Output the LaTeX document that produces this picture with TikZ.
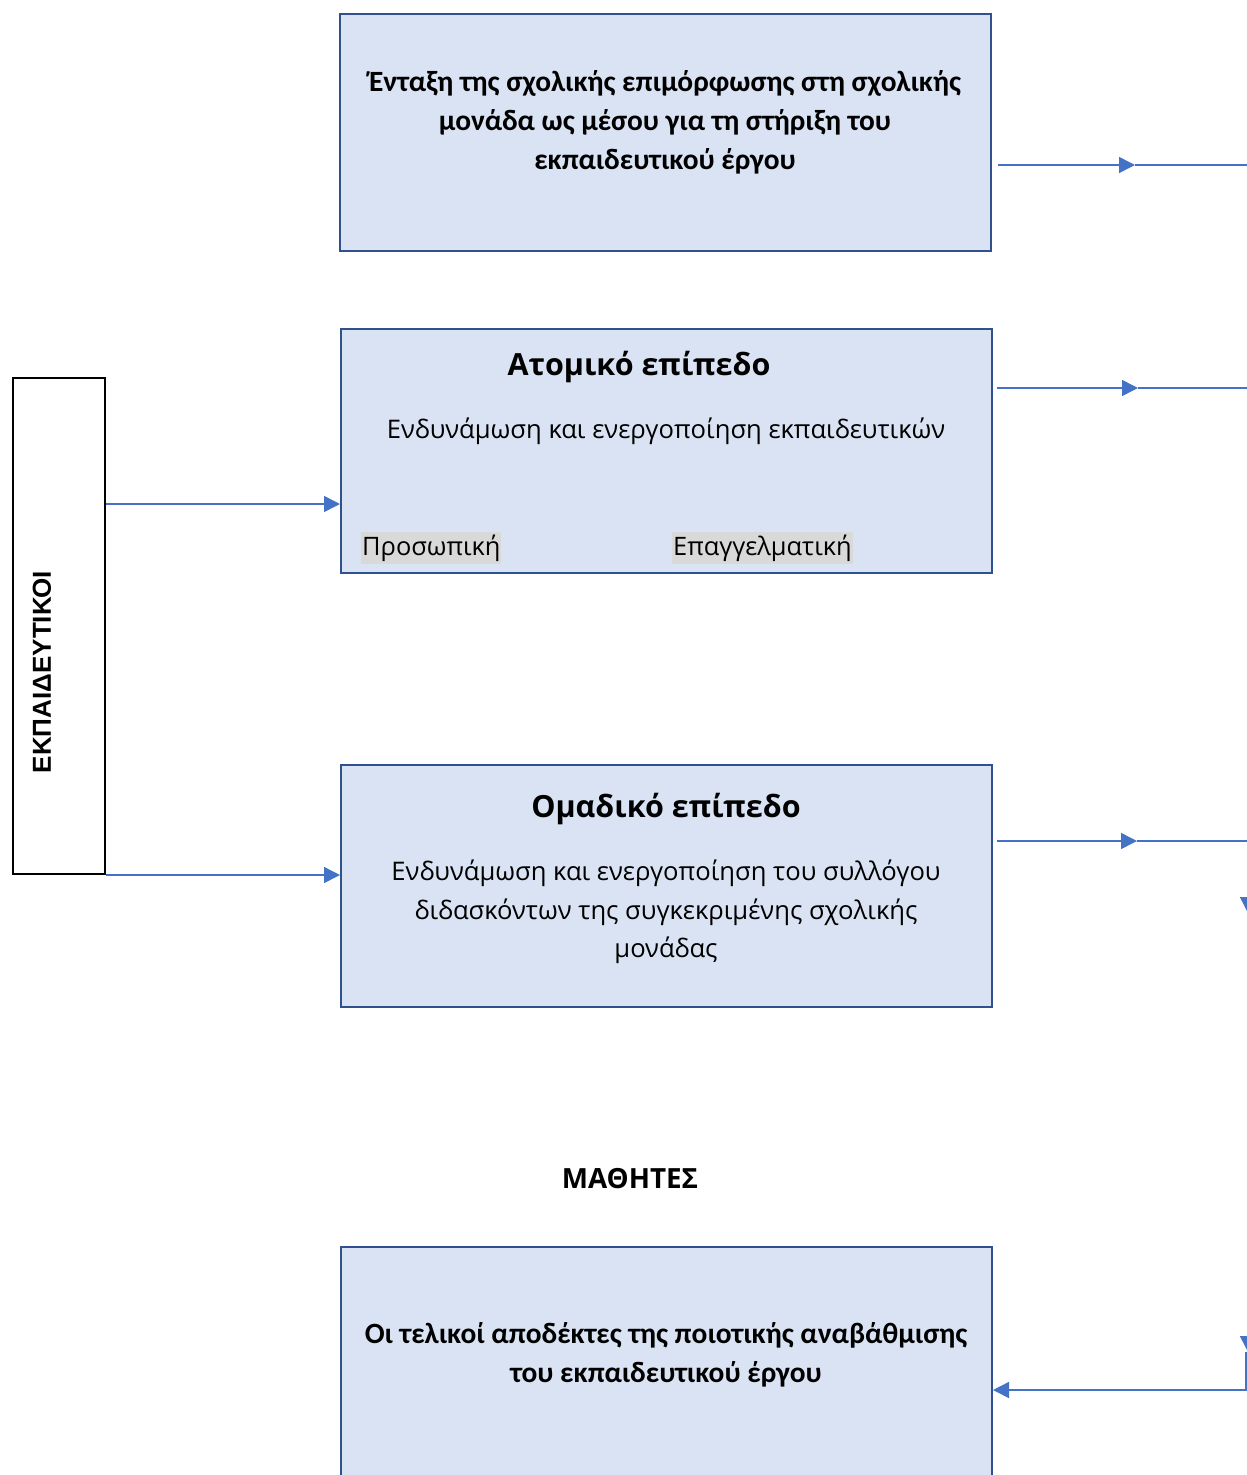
\documentclass[tikz,border=0pt]{standalone}
\usepackage{fontspec}
\setmainfont{Open Sans}
\newfontfamily\calfont{Carlito}
\newfontfamily\arfont{Liberation Sans}
\usetikzlibrary{arrows.meta}
\definecolor{boxfill}{HTML}{DAE3F3}
\definecolor{boxline}{HTML}{2F528F}
\definecolor{linkblue}{HTML}{4472C4}
\definecolor{tagfill}{HTML}{D9D9D9}
\tikzset{
  levelbox/.style={draw=boxline, fill=boxfill, line width=2pt, anchor=north west, minimum width=651pt},
  link/.style={draw=linkblue, line width=1.5pt, -{Triangle[length=16pt,width=16pt]}},
  plainlink/.style={draw=linkblue, line width=1.5pt},
  boldtxt/.style={align=center, font=\calfont\bfseries\fontsize{29.4}{39}\selectfont},
  headtxt/.style={font=\bfseries\fontsize{30.5}{36}\selectfont},
  bodytxt/.style={align=center, font=\fontsize{25.6}{38.5}\selectfont},
  tagtxt/.style={fill=tagfill, inner xsep=1pt, inner ysep=0pt, minimum height=32pt, font=\fontsize{25.4}{30}\selectfont},
}
\begin{document}
\begin{tikzpicture}[x=1pt, y=-1pt]
  \useasboundingbox (0,0) rectangle (1247,1475);
  \clip (0,0) rectangle (1247,1475);
  % School unit
  \node[levelbox, minimum height=237pt] (unit) at (339,13) {};
  \node[boldtxt] (unittxt) at (665,122) {Ένταξη της σχολικής επιμόρφωσης στη σχολικής\\ μονάδα ως μέσου για τη στήριξη του\\ εκπαιδευτικού έργου};
  % Individual level
  \node[levelbox, minimum height=244pt] (atomic) at (340,328) {};
  \node[headtxt] (atomichead) at (639,367) {Ατομικό επίπεδο};
  \node[bodytxt] (atomictxt) at (666,431) {Ενδυνάμωση και ενεργοποίηση εκπαιδευτικών};
  \node[tagtxt, anchor=west] (personal) at (361,548) {Προσωπική};
  \node[tagtxt, anchor=west] (profession) at (672,548) {Επαγγελματική};
  % Group level
  \node[levelbox, minimum height=242pt] (group) at (340,764) {};
  \node[headtxt] (grouphead) at (666,809) {Ομαδικό επίπεδο};
  \node[bodytxt] (grouptxt) at (666,912) {Ενδυνάμωση και ενεργοποίηση του συλλόγου\\ διδασκόντων της συγκεκριμένης σχολικής\\ μονάδας};
  % Pupils
  \node[font=\bfseries\fontsize{27.8}{30}\selectfont] (pupils) at (630,1179) {ΜΑΘΗΤΕΣ};
  \node[levelbox, minimum height=280pt] (final) at (340,1246) {};
  \node[boldtxt] (finaltxt) at (666,1355) {Οι τελικοί αποδέκτες της ποιοτικής αναβάθμισης\\ του εκπαιδευτικού έργου};
  % Teachers
  \node[draw=black, fill=white, line width=2pt, anchor=north west, minimum width=92pt, minimum height=496pt] (teachers) at (12,377) {};
  \node[rotate=90, font=\arfont\bfseries\fontsize{26}{30}\selectfont] (teacherstxt) at (42,672) {ΕΚΠΑΙΔΕΥΤΙΚΟΙ};
  % Links from teachers
  \draw[link] (teachers.east |- 0,504) -- (atomic.west |- 0,504);
  \draw[link] (teachers.south east) -- (group.west |- teachers.south east);
  % Links to the right
  \coordinate (tip1) at (1135,165);
  \coordinate (tip2) at (1138,388);
  \coordinate (tip3) at (1137,841);
  \draw[link] ([xshift=6pt]unit.east |- tip1) -- (tip1);
  \draw[plainlink] (tip1) -- (1247,165);
  \draw[link] ([xshift=4pt]atomic.east |- tip2) -- (tip2);
  \draw[plainlink] (tip2) -- (1247,388);
  \draw[link] ([xshift=4pt]group.east |- tip3) -- (tip3);
  \draw[plainlink] (tip3) -- (1247,841);
  % Returning link
  \coordinate (down1) at (1248,913);
  \coordinate (down2) at (1248,1352);
  \draw[link] (1248,870) -- (down1);
  \draw[link] (1248,1310) -- (down2);
  \draw[link] (1246,1352) |- (final.east |- 0,1390);
\end{tikzpicture}
\end{document}
